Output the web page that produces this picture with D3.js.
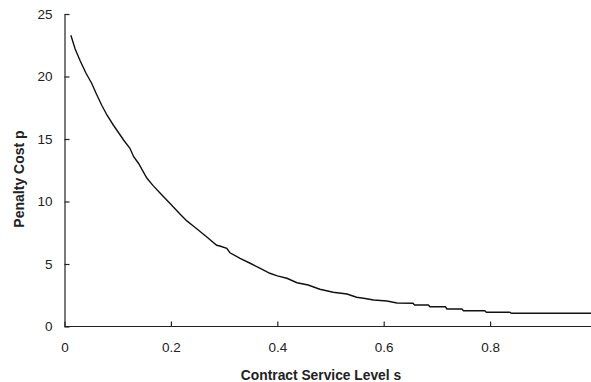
<!DOCTYPE html>
<html><head><meta charset="utf-8">
<script src="https://cdn.jsdelivr.net/npm/d3@7"></script>
<style>body{margin:0;background:#fff}svg{display:block}text{font-family:Arial,"Liberation Sans",sans-serif;fill:#222}</style>
</head><body>
<svg id="c" width="591" height="382"></svg>
<script>
const serviceLevel = [0.012,0.02,0.029,0.04,0.051,0.06,0.07,0.08,0.092,0.105,0.111,0.123,0.13,0.139,0.155,0.167,0.18,0.198,0.217,0.23,0.245,0.267,0.286,0.292,0.305,0.311,0.33,0.349,0.368,0.386,0.40,0.418,0.437,0.458,0.48,0.505,0.531,0.549,0.565,0.581,0.606,0.625,0.655,0.658,0.684,0.687,0.716,0.719,0.747,0.75,0.79,0.793,0.837,0.84,0.99];
const penaltyCost  = [23.3,22.2,21.3,20.3,19.46,18.6,17.7,16.9,16.1,15.3,14.92,14.26,13.58,13.06,11.86,11.25,10.66,9.86,9.0,8.45,7.94,7.18,6.5,6.44,6.26,5.9,5.45,5.06,4.65,4.26,4.05,3.86,3.5,3.32,2.98,2.74,2.6,2.34,2.24,2.12,2.04,1.88,1.86,1.72,1.72,1.58,1.58,1.40,1.40,1.26,1.26,1.14,1.14,1.06,1.06];
const xTicks = [0,0.2,0.4,0.6,0.8];
const yTicks = [0,5,10,15,20,25];
const xTitle = "Contract Service Level s";
const yTitle = "Penalty Cost p";

const svg = d3.select("#c");
const x = d3.scaleLinear().domain([0,1]).range([64.5,596.5]);
const y = d3.scaleLinear().domain([0,25]).range([326.5,14]);

const gx = svg.append("g").attr("transform","translate(0,326.5)")
  .call(d3.axisBottom(x).tickValues(xTicks).tickFormat(d=>d===0?"0":d3.format(".1f")(d)).tickSizeInner(-5).tickSizeOuter(0).tickPadding(16));
const gy = svg.append("g").attr("transform","translate(64.5,0)")
  .call(d3.axisLeft(y).tickValues(yTicks).tickSizeInner(-5).tickSizeOuter(0).tickPadding(12));
[gx,gy].forEach(g=>{
  g.attr("font-size",13.5).attr("font-family","Arial, 'Liberation Sans', sans-serif");
  g.select(".domain").attr("stroke","#222").attr("stroke-width",1.2);
  g.selectAll(".tick line").attr("stroke","#222").attr("stroke-width",1.2);
  g.selectAll(".tick text").attr("fill","#222");
});
gx.select(".domain").attr("d","M64.5,0H591");

const pts = serviceLevel.map((s,i)=>[s,penaltyCost[i]]);
svg.append("path").datum(pts)
  .attr("fill","none").attr("stroke","#111").attr("stroke-width",1.4)
  .attr("d", d3.line().x(d=>x(d[0])).y(d=>y(d[1])));

svg.append("text").attr("x",321).attr("y",380).attr("text-anchor","middle")
  .attr("font-size",13.8).attr("font-weight","bold").text(xTitle);
svg.append("text").attr("transform","translate(23.5,179) rotate(-90)").attr("text-anchor","middle")
  .attr("font-size",14).attr("font-weight","bold").text(yTitle);
</script>
</body></html>
